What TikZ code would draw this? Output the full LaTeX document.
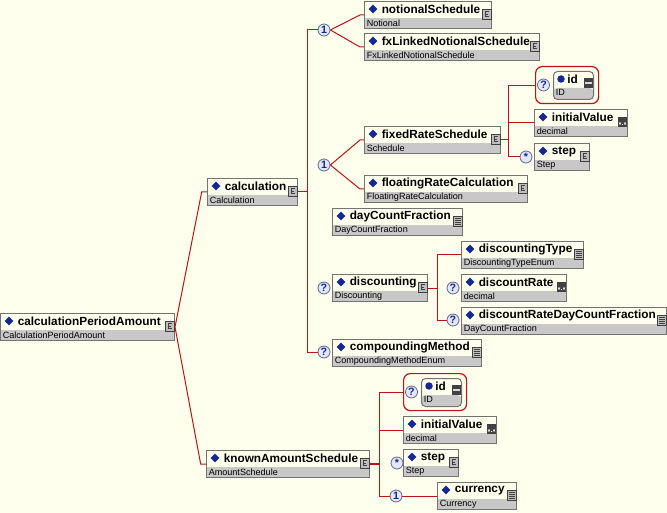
\documentclass[tikz,border=0pt]{standalone}
\usepackage{fontspec}
\setmainfont{Liberation Sans}
\usetikzlibrary{shapes.geometric}
\definecolor{bg}{RGB}{255,255,238}
\definecolor{band}{RGB}{200,200,200}
\definecolor{bord}{RGB}{115,115,115}
\definecolor{linered}{RGB}{190,20,20}
\definecolor{navy}{RGB}{20,40,150}
\definecolor{icgrey}{RGB}{190,190,190}
\definecolor{icdark}{RGB}{65,65,65}
\definecolor{cardfill}{RGB}{225,232,248}
\definecolor{cardline}{RGB}{100,100,150}
\newcommand\elbox[7]{%
  \node[ebox, minimum width={#4*0.75pt}] (#1) at (#2,#3) {};
  \node[dmd] (#1-d) at ([shift={(9,8)}]#1.north west) {};
  \node[nm] (#1-n) at ([shift={(17.5,8.5)}]#1.north west) {#5};
  \node[ty] (#1-t) at ([shift={(2.5,22)}]#1.north west) {#6};
  \pic at ([shift={(-5.5,13)}]#1.north east) {#7};
}
\newcommand\idgrp[3]{%
  \node[idframe] (#1) at (#2,#3) {};
  \node[card] (#1-q) at ([shift={(8.5,19)}]#1.north west) {?};
  \node[ibox] (#1-b) at ([shift={(18,5)}]#1.north west) {};
  \node[circle, fill=navy, minimum size={7.5*0.75pt}, inner sep=0pt] (#1-d) at ([shift={(8,8)}]#1-b.north west) {};
  \node[nm] (#1-n) at ([shift={(14,8)}]#1-b.north west) {id};
  \node[ty] (#1-t) at ([shift={(2.5,21.5)}]#1-b.north west) {ID};
  \pic at ([shift={(-5.5,12)}]#1-b.north east) {idt};
}
\begin{document}
\begin{tikzpicture}[x=0.75pt,y=-0.75pt,
  ebox/.style={draw=bord, line width=0.75pt, fill=bg, inner sep=0pt,
    minimum height={27*0.75pt}, anchor=north west,
    path picture={\fill[band] ([yshift=-16.5*0.75pt]path picture bounding box.north west) rectangle (path picture bounding box.south east);}},
  ibox/.style={ebox, rounded corners=3pt, minimum width={40*0.75pt}, minimum height={28*0.75pt}},
  idframe/.style={draw=linered, line width=0.9pt, rounded corners=5pt, inner sep=0pt,
    anchor=north west, minimum width={63*0.75pt}, minimum height={37*0.75pt}},
  nm/.style={anchor=west, inner sep=0pt, font=\fontsize{8.85}{10}\selectfont\bfseries},
  ty/.style={anchor=west, inner sep=0pt, font=\fontsize{6.8}{8}\selectfont},
  dmd/.style={diamond, fill=navy, inner sep=0pt, minimum width={9*0.75pt}, minimum height={9*0.75pt}},
  card/.style={circle, draw=cardline, fill=cardfill, line width=0.6pt, inner sep=0pt,
    minimum size={12*0.75pt}, font=\fontsize{8}{8}\selectfont\bfseries, text=navy},
  wire/.style={draw=linered, line width=0.75pt},
  cplx/.pic={\draw[fill=icgrey, draw=icdark, line width=0.5pt] (-4.5,-5) rectangle (4.5,5);
    \draw[icdark, line width=0.7pt] (2,-2.5) -- (-1.5,-2.5) -- (-1.5,2.5) -- (2,2.5) (-1.5,0) -- (1,0);},
  enm/.pic={\draw[fill=icgrey, draw=icdark, line width=0.5pt] (-4.5,-5) rectangle (4.5,5);
    \foreach \yy in {-2.5,-0.5,1.5,3.5}{\draw[icdark, line width=0.6pt] (-3,\yy) -- (3,\yy);}},
  dec/.pic={\fill[icdark] (-4.5,-5) rectangle (4.5,5);
    \draw[white, line width=0.4pt] (-3.5,0.5) -- (-1.5,2.5) (-3.5,2.5) -- (-1.5,0.5) (1.5,0.5) -- (3.5,2.5) (1.5,2.5) -- (3.5,0.5);
    \fill[white] (-0.3,2) rectangle (0.5,2.8);},
  idt/.pic={\fill[icdark] (-4.5,-5) rectangle (4.5,5);
    \draw[white!85!black, line width=1.2pt] (-3.5,0) -- (3.5,0);}
]
\fill[bg] (0,0) rectangle (667,513);
\useasboundingbox (0,0) rectangle (667,513);

% element boxes
\elbox{cpa}{0}{313}{174}{calculationPeriodAmount}{CalculationPeriodAmount}{cplx}
\elbox{calc}{207}{178}{90}{calculation}{Calculation}{cplx}
\elbox{kas}{206}{450}{163}{knownAmountSchedule}{AmountSchedule}{cplx}
\elbox{ns}{364}{1}{127}{notionalSchedule}{Notional}{cplx}
\elbox{fx}{364}{33}{175}{fxLinkedNotionalSchedule}{FxLinkedNotionalSchedule}{cplx}
\elbox{frs}{364}{126}{136}{fixedRateSchedule}{Schedule}{cplx}
\elbox{iv1}{534}{109}{93}{initialValue}{decimal}{dec}
\elbox{st1}{534}{143}{55}{step}{Step}{cplx}
\elbox{frc}{364}{175}{163}{floatingRateCalculation}{FloatingRateCalculation}{cplx}
\elbox{dcf}{332}{208}{130}{dayCountFraction}{DayCountFraction}{enm}
\elbox{disc}{332}{274}{95}{discounting}{Discounting}{cplx}
\elbox{dt}{461}{241}{122}{discountingType}{DiscountingTypeEnum}{enm}
\elbox{dr}{461}{274}{105}{discountRate}{decimal}{dec}
\elbox{drd}{461}{307}{205}{discountRateDayCountFraction}{DayCountFraction}{enm}
\elbox{cm}{332}{339}{149}{compoundingMethod}{CompoundingMethodEnum}{enm}
\elbox{iv2}{403}{416}{93}{initialValue}{decimal}{dec}
\elbox{st2}{403}{449}{55}{step}{Step}{cplx}
\elbox{cur}{437}{482}{79}{currency}{Currency}{enm}

% id attribute groups
\idgrp{idg1}{535}{66}
\idgrp{idg2}{403}{373}

% cardinality / compositor icons
\node[card] (ch1) at (324,30) {1};
\node[card] (ch2) at (324,165) {1};
\node[card] (q1) at (324,288) {?};
\node[card] (q3) at (324,352) {?};
\node[card] (q4) at (453,288) {?};
\node[card] (q5) at (453,320) {?};
\node[card] (s1) at (526,157) {*};
\node[card] (s2) at (397,463) {*};
\node[card] (ch3) at (396,496) {1};

% connectors
\coordinate (v1) at (307,0);
\coordinate (v2) at (437,0);
\coordinate (v3) at (508,0);
\coordinate (v4) at (379,0);
\draw[wire] (cpa.east) -- ([xshift=-4pt]calc.west) -- (calc.west);
\draw[wire] (cpa.east) -- ([xshift=-4pt]kas.west) -- (kas.west);
\draw[wire] (calc.east) -- (calc.east -| v1);
\draw[wire] (ch1.west) -- (ch1.west -| v1) -- (q3.west -| v1) -- (q3.west);
\draw[wire] (ch1.east) -- ([xshift=-3pt]ns.west) -- (ns.west);
\draw[wire] (ch1.east) -- ([xshift=-3pt]fx.west) -- (fx.west);
\draw[wire] (ch2.east) -- ([xshift=-3pt]frs.west) -- (frs.west);
\draw[wire] (ch2.east) -- ([xshift=-3pt]frc.west) -- (frc.west);
\draw[wire] (frs.east) -- (frs.east -| v3);
\draw[wire] (idg1.west) -- (idg1.west -| v3) -- (s1.west -| v3) -- (s1.west);
\draw[wire] (iv1.west -| v3) -- (iv1.west);
\draw[wire] (disc.east) -- (disc.east -| v2);
\draw[wire] (dt.west) -- (dt.west -| v2) -- (q5.west -| v2) -- (q5.west);
\draw[wire, line width=1.3pt] (kas.east) -- (kas.east -| v4);
\draw[wire] (idg2.west) -- (idg2.west -| v4) -- (ch3.west -| v4) -- (ch3.west);
\draw[wire] (iv2.west -| v4) -- (iv2.west);
\draw[wire] (ch3.east) -- (cur.west);
\end{tikzpicture}
\end{document}
